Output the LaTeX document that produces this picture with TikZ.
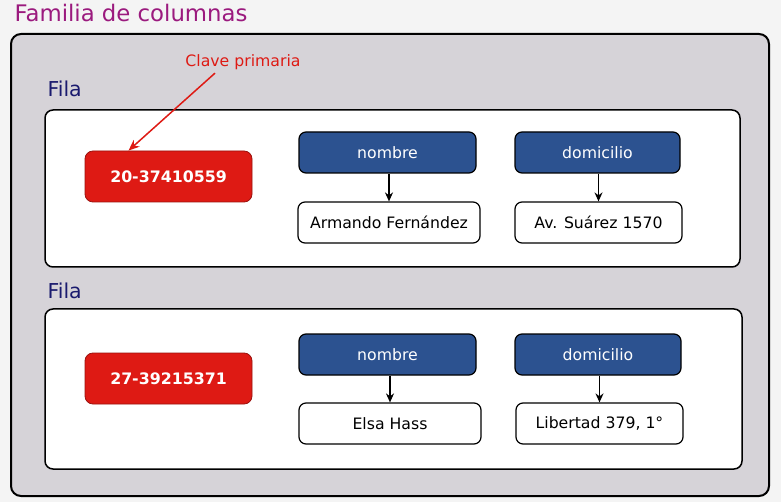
\documentclass[tikz,border=0pt]{standalone}
\usepackage{fontspec}
\setmainfont{DejaVu Sans}
\usetikzlibrary{arrows.meta}

\definecolor{fondo}{HTML}{F4F4F4}
\definecolor{familia}{HTML}{D6D3D8}
\definecolor{titulo}{HTML}{9B1A7E}
\definecolor{fila}{HTML}{1A1A6E}
\definecolor{clave}{HTML}{DE1A14}
\definecolor{columna}{HTML}{2C5290}

\begin{document}
\begin{tikzpicture}[
  x = 1pt, y = -1pt,
  font = \fontsize{15.7}{18}\selectfont,
  rowbox/.style = {draw, line width = 1.5pt, fill = white, rounded corners = 8pt},
  keybox/.style = {draw = clave!70!black, line width = 0.8pt, fill = clave, rounded corners = 8pt,
                   minimum width = 167pt, minimum height = 51pt, text = white, font = \fontsize{15.8}{18}\selectfont\bfseries},
  colbox/.style = {draw, line width = 1.2pt, fill = columna, rounded corners = 7pt,
                   minimum height = 41pt, text = white},
  valbox/.style = {draw, line width = 1.2pt, fill = white, rounded corners = 7pt,
                   minimum height = 41pt},
  rowlabel/.style = {anchor = west, text = fila, font = \fontsize{20.5}{24}\selectfont},
  link/.style = {-{Stealth[length = 9pt, width = 8pt]}, line width = 1.5pt},
  ]
  % fondo y familia de columnas
  \path[fill = fondo] (0,0) rectangle (781,502);
  \node[anchor = west, text = titulo, font = \fontsize{22.8}{26}\selectfont] (familia) at (11,13) {Familia de columnas};
  \draw[line width = 2pt, fill = familia, rounded corners = 10pt] (11,34) rectangle (769,496);

  % primera fila
  \node[rowlabel] (fila1) at (44,89) {Fila};
  \draw[rowbox] (45,110) rectangle (740,267);
  \node[keybox] (key1) at (168.5,176.5) {20-37410559};
  \node[colbox, minimum width = 177pt] (nom1) at (387.5,152.5) {nombre};
  \node[colbox, minimum width = 165pt] (dom1) at (597.5,152.5) {domicilio};
  \node[valbox, minimum width = 182pt] (val1a) at (389,222.5) {Armando Fernández};
  \node[valbox, minimum width = 167pt] (val1b) at (598.5,222.5) {Av. Suárez 1570};
  \draw[link] (val1a.north |- nom1.south) -- (val1a.north);
  \draw[link] (val1b.north |- dom1.south) -- (val1b.north);

  % clave primaria
  \node[text = clave] (primaria) at (243,62) {Clave primaria};
  \draw[-{Stealth[length = 11pt, width = 9pt]}, line width = 1.5pt, draw = clave]
    ([xshift = -28pt]primaria.south) -- ([xshift = -40pt]key1.north);

  % segunda fila
  \node[rowlabel] (fila2) at (44,291) {Fila};
  \draw[rowbox] (45,309) rectangle (742,469);
  \node[keybox] (key2) at (168.5,378.5) {27-39215371};
  \node[colbox, minimum width = 177pt] (nom2) at (387.5,354.5) {nombre};
  \node[colbox, minimum width = 166pt] (dom2) at (598,354.5) {domicilio};
  \node[valbox, minimum width = 182pt] (val2a) at (390,423.5) {Elsa Hass};
  \node[valbox, minimum width = 167pt] (val2b) at (599.5,423.5) {Libertad 379, 1°};
  \draw[link] (val2a.north |- nom2.south) -- (val2a.north);
  \draw[link] (val2b.north |- dom2.south) -- (val2b.north);
\end{tikzpicture}
\end{document}
